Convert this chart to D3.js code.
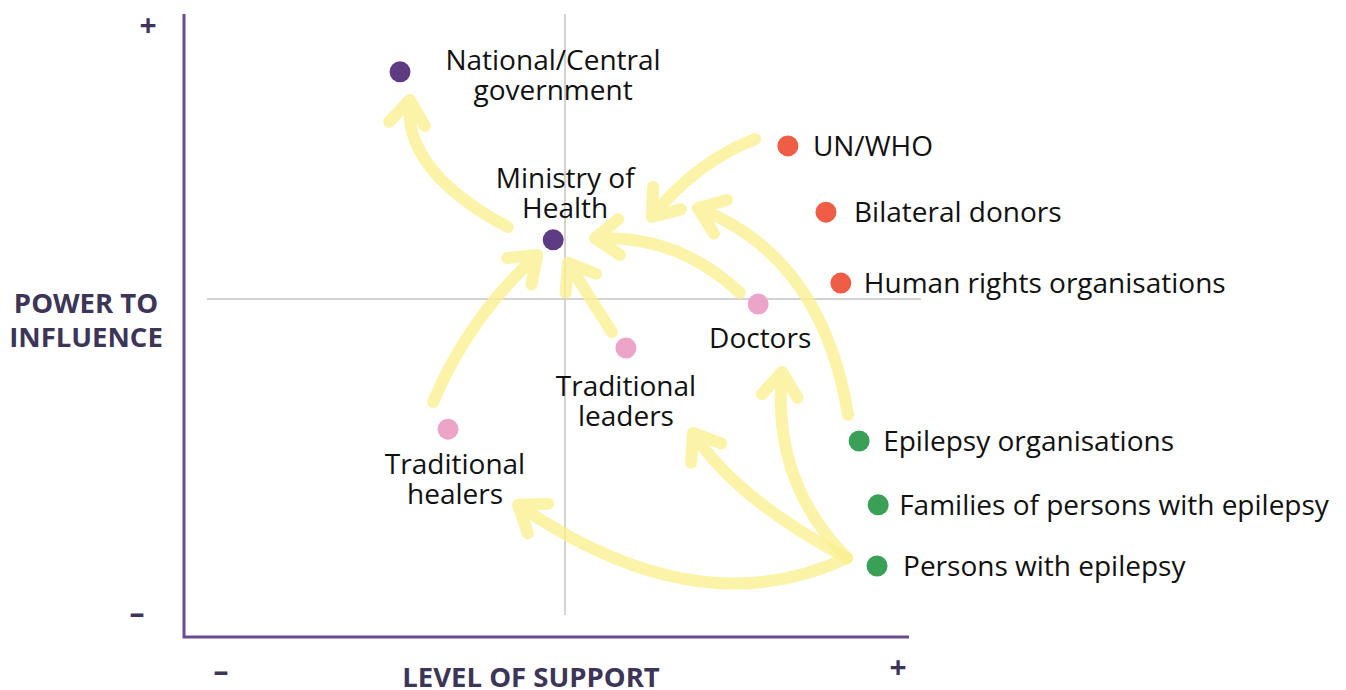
<!DOCTYPE html>
<html>
<head>
<meta charset="utf-8">
<script src="https://cdn.jsdelivr.net/npm/d3@7"></script>
<style>
  html, body { margin: 0; padding: 0; background: #ffffff; }
  svg { display: block; }
</style>
</head>
<body>
<div id="chart"></div>
<script>
// stakeholders, in support (x) / power (y) units, -10 .. 10
const names = [
  ["National/Central", "government"],
  ["Ministry of", "Health"],
  ["UN/WHO"],
  ["Bilateral donors"],
  ["Human rights organisations"],
  ["Doctors"],
  ["Traditional", "leaders"],
  ["Traditional", "healers"],
  ["Epilepsy organisations"],
  ["Families of persons with epilepsy"],
  ["Persons with epilepsy"]
];
const support = [-4.33, -0.31, 5.85, 6.85, 7.24, 5.07, 1.60, -3.07, 7.72, 8.22, 8.19];
const power   = [6.72, 1.75, 4.53, 2.57, 0.47, -0.15, -1.45, -3.85, -4.20, -6.09, -7.90];
const groups  = ["gov", "gov", "donor", "donor", "donor", "local", "local", "local", "civil", "civil", "civil"];

// influence arrows: start, a point the curve passes through, tip
const arrowFrom = [[-1.50, 2.13], [-3.46, -3.05], [4.99, 4.73], [4.59, 0.18], [1.23, -0.98],
                   [7.43, -3.43], [7.40, -7.66], [7.40, -7.66], [7.40, -7.66]];
const arrowVia  = [[-3.54, 3.91], [-2.31, -0.71], [3.54, 3.82], [2.83, 1.45], [0.66, 0.03],
                   [6.10, 0.45], [5.98, -5.15], [4.93, -5.86], [3.28, -8.31]];
const arrowTo   = [[-4.07, 5.89], [-0.73, 1.30], [2.28, 2.43], [0.79, 1.80], [0.08, 1.07],
                   [3.49, 2.69], [5.70, -2.16], [3.36, -3.96], [-1.23, -6.09]];

// label placement next to each dot (pixels)
const labelAnchor = ["middle", "middle", "start", "start", "start", "middle", "middle", "middle", "start", "start", "start"];
const labelDx = [153, 12, 25, 28, 23, 2, 0, 7, 24, 21, 26];
const labelDy = [-2, -52, 10, 10, 10, 44, 48, 45, 10, 10, 10];

const colors = { gov: "#5e3b82", donor: "#ef5d46", local: "#eca4c9", civil: "#3a9f57" };

const width = 1346, height = 690;
const svg = d3.select("#chart").append("svg")
    .attr("width", width)
    .attr("height", height);

const x = d3.scaleLinear().domain([-10, 10]).range([184, 946]);
const y = d3.scaleLinear().domain([-10, 10]).range([637, -39]);

// quadrant cross
svg.append("line")
    .attr("x1", x(0)).attr("x2", x(0))
    .attr("y1", 14).attr("y2", 615)
    .attr("stroke", "#c4c4c4").attr("stroke-width", 1.5);
svg.append("line")
    .attr("x1", 207).attr("x2", 921)
    .attr("y1", y(0)).attr("y2", y(0))
    .attr("stroke", "#c4c4c4").attr("stroke-width", 1.5);

// axes
svg.append("path")
    .attr("d", `M184,14 V637 H909`)
    .attr("fill", "none")
    .attr("stroke", "#6a4b8b")
    .attr("stroke-width", 3);

const titleColor = "#3d3557";
const axisText = svg.append("g")
    .attr("font-family", "'Open Sans', sans-serif")
    .attr("font-weight", 700)
    .attr("fill", titleColor);

axisText.append("text")
    .attr("x", 86).attr("y", 313)
    .attr("text-anchor", "middle")
    .attr("font-size", 27.5)
    .text("POWER TO");
axisText.append("text")
    .attr("x", 86).attr("y", 347)
    .attr("text-anchor", "middle")
    .attr("font-size", 27.5)
    .text("INFLUENCE");
axisText.append("text")
    .attr("x", 531).attr("y", 687)
    .attr("text-anchor", "middle")
    .attr("font-size", 27.5)
    .text("LEVEL OF SUPPORT");

axisText.append("text").attr("x", 148).attr("y", 36).attr("text-anchor", "middle").attr("font-size", 30).text("+");
axisText.append("text").attr("x", 137).attr("y", 624).attr("text-anchor", "middle").attr("font-size", 30).text("–");
axisText.append("text").attr("x", 221).attr("y", 682).attr("text-anchor", "middle").attr("font-size", 30).text("–");
axisText.append("text").attr("x", 898).attr("y", 678).attr("text-anchor", "middle").attr("font-size", 30).text("+");

// arrows
const arrows = arrowFrom.map((s, i) => ({ s: s, m: arrowVia[i], e: arrowTo[i] }));
const arrowG = svg.append("g")
    .attr("fill", "none")
    .attr("stroke", "#faf092")
    .attr("stroke-opacity", 0.8)
    .attr("stroke-width", 12)
    .attr("stroke-linecap", "round")
    .attr("stroke-linejoin", "round");

arrows.forEach(a => {
    const sx = x(a.s[0]), sy = y(a.s[1]);
    const mx = x(a.m[0]), my = y(a.m[1]);
    const ex = x(a.e[0]), ey = y(a.e[1]);
    // control point so the curve passes through the via point at t = 0.5
    const cx = 2 * mx - (sx + ex) / 2;
    const cy = 2 * my - (sy + ey) / 2;
    const p = d3.path();
    p.moveTo(sx, sy);
    p.quadraticCurveTo(cx, cy, ex, ey);
    // open arrow head
    const ang = Math.atan2(cy - ey, cx - ex);
    const len = 30, spread = 0.64;
    p.moveTo(ex + len * Math.cos(ang - spread), ey + len * Math.sin(ang - spread));
    p.lineTo(ex, ey);
    p.lineTo(ex + len * Math.cos(ang + spread), ey + len * Math.sin(ang + spread));
    arrowG.append("path").attr("d", p.toString());
});

// dots and labels
const pts = names.map((n, i) => ({ lines: n, sx: support[i], py: power[i], g: groups[i],
    anchor: labelAnchor[i], dx: labelDx[i], dy: labelDy[i] }));

svg.append("g").selectAll("circle")
    .data(pts)
    .enter()
    .append("circle")
        .attr("cx", d => x(d.sx))
        .attr("cy", d => y(d.py))
        .attr("r", 10.5)
        .attr("fill", d => colors[d.g]);

const labels = svg.append("g")
    .attr("font-family", "'Open Sans', sans-serif")
    .attr("font-size", 28)
    .attr("fill", "#111111")
    .selectAll("text")
    .data(pts)
    .enter()
    .append("text")
        .attr("text-anchor", d => d.anchor)
        .attr("x", d => x(d.sx) + d.dx)
        .attr("y", d => y(d.py) + d.dy);

labels.selectAll("tspan")
    .data(d => d.lines.map((t, k) => ({ t: t, k: k, x: x(d.sx) + d.dx })))
    .enter()
    .append("tspan")
        .attr("x", t => t.x)
        .attr("dy", t => t.k === 0 ? 0 : 30)
        .text(t => t.t);
</script>
</body>
</html>
